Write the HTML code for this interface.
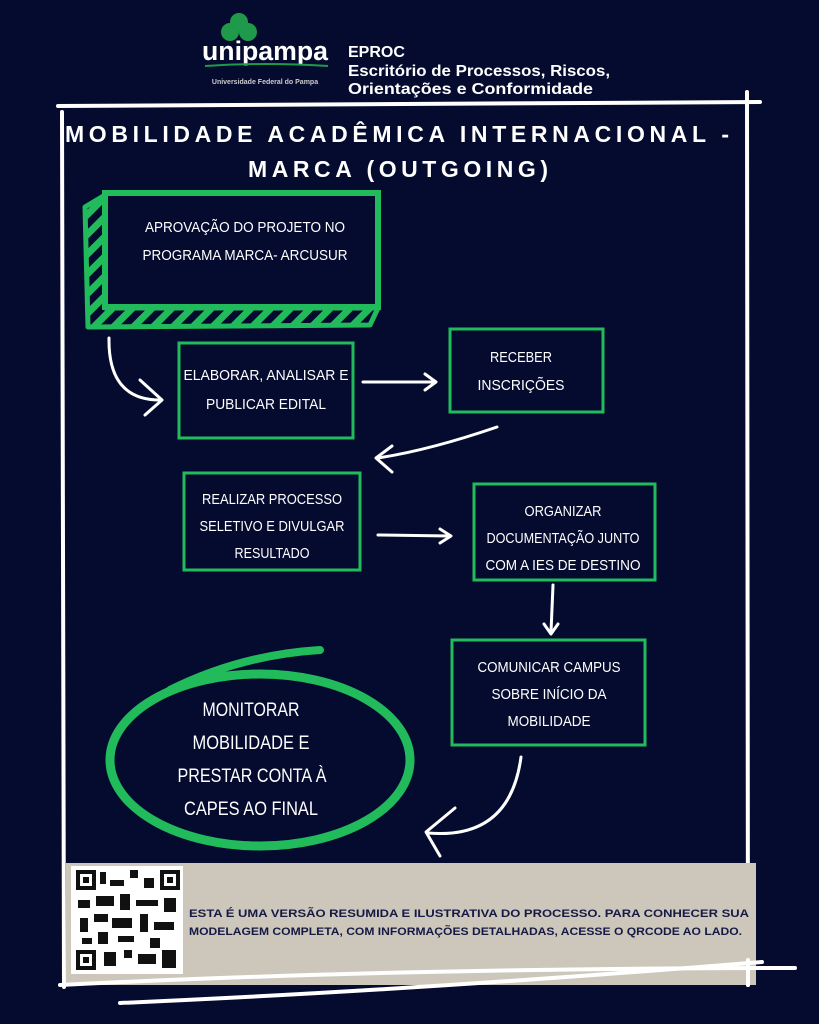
<!DOCTYPE html>
<html><head><meta charset="utf-8"><style>
html,body{margin:0;padding:0;background:#050b2f;}
svg{display:block}
.t{font-family:"Liberation Sans Narrow","Liberation Sans",sans-serif;fill:#fff}
</style></head><body>
<svg width="819" height="1024" viewBox="0 0 819 1024" xmlns="http://www.w3.org/2000/svg">
<defs>
<pattern id="hatch" width="14" height="14" patternUnits="userSpaceOnUse" patternTransform="rotate(45)">
<rect width="14" height="14" fill="#050b2f"/><rect width="7" height="14" fill="#22bb5c"/>
</pattern>
</defs>
<rect width="819" height="1024" fill="#050b2f"/>
<circle cx="239" cy="22" r="9" fill="#1f9a4a"/>
<circle cx="230" cy="32" r="9" fill="#1f9a4a"/>
<circle cx="248" cy="32" r="9" fill="#1f9a4a"/>
<text x="265" y="60" text-anchor="middle" font-family="Liberation Sans,sans-serif" font-weight="bold" font-size="27" fill="#fff" textLength="126" lengthAdjust="spacingAndGlyphs">unipampa</text>
<path d="M205 66 Q265 62 328 66" stroke="#1f9a4a" stroke-width="2" fill="none"/>
<text x="265" y="84" text-anchor="middle" font-family="Liberation Sans,sans-serif" font-weight="bold" font-size="7" fill="#ccc">Universidade Federal do Pampa</text>
<g font-family="Liberation Sans,sans-serif" font-weight="bold" fill="#fff" font-size="16">
<text x="348" y="57">EPROC</text>
<text x="348" y="76" textLength="262" lengthAdjust="spacingAndGlyphs">Escritório de Processos, Riscos,</text>
<text x="348" y="94" textLength="245" lengthAdjust="spacingAndGlyphs">Orientações e Conformidade</text>
</g>
<g stroke="#fff" stroke-width="4" stroke-linecap="round" fill="none">
<path d="M58 106 L760 102"/>
<path d="M62 112 L64 987"/>
<path d="M747 92 L748 985"/>
</g>
<g font-family="Liberation Sans,sans-serif" font-weight="bold" fill="#fff" font-size="23" text-anchor="middle">
<text x="397" y="142" textLength="664" lengthAdjust="spacing">MOBILIDADE ACADÊMICA INTERNACIONAL -</text>
<text x="398" y="177" textLength="300" lengthAdjust="spacing">MARCA (OUTGOING)</text>
</g>
<path d="M85 207 L105 195 L105 308 L378 308 L370 325 L88 327 Z" fill="url(#hatch)" stroke="#22bb5c" stroke-width="5" stroke-linejoin="round"/>
<rect x="105" y="193" width="273" height="114" fill="#050b2f" stroke="#22bb5c" stroke-width="6"/>
<text class="t" x="245" y="232" text-anchor="middle" font-size="15" textLength="200" lengthAdjust="spacingAndGlyphs">APROVAÇÃO DO PROJETO NO</text>
<text class="t" x="245" y="260" text-anchor="middle" font-size="15" textLength="205" lengthAdjust="spacingAndGlyphs">PROGRAMA MARCA- ARCUSUR</text>
<g fill="none" stroke="#22bb5c" stroke-width="3">
<rect x="179" y="343" width="174" height="95"/>
<rect x="450" y="329" width="153" height="83"/>
<rect x="184" y="473" width="176" height="97"/>
<rect x="474" y="484" width="181" height="96"/>
<rect x="452" y="640" width="193" height="105"/>
</g>
<ellipse cx="260" cy="760" rx="150" ry="86" fill="none" stroke="#22bb5c" stroke-width="9"/>
<path d="M170 690 Q240 655 320 650" stroke="#22bb5c" stroke-width="8" fill="none" stroke-linecap="round"/>
<g class="t" font-size="15" text-anchor="middle">
<text x="266" y="380" textLength="165" lengthAdjust="spacingAndGlyphs">ELABORAR, ANALISAR E</text>
<text x="266" y="409" textLength="120" lengthAdjust="spacingAndGlyphs">PUBLICAR EDITAL</text>
<text x="521" y="362" textLength="62" lengthAdjust="spacingAndGlyphs">RECEBER</text>
<text x="521" y="390" textLength="87" lengthAdjust="spacingAndGlyphs">INSCRIÇÕES</text>
<text x="272" y="504" textLength="140" lengthAdjust="spacingAndGlyphs">REALIZAR PROCESSO</text>
<text x="272" y="531" textLength="145" lengthAdjust="spacingAndGlyphs">SELETIVO E DIVULGAR</text>
<text x="272" y="558" textLength="75" lengthAdjust="spacingAndGlyphs">RESULTADO</text>
<text x="563" y="516" textLength="77" lengthAdjust="spacingAndGlyphs">ORGANIZAR</text>
<text x="563" y="543" textLength="153" lengthAdjust="spacingAndGlyphs">DOCUMENTAÇÃO JUNTO</text>
<text x="563" y="570" textLength="155" lengthAdjust="spacingAndGlyphs">COM A IES DE DESTINO</text>
<text x="549" y="672" textLength="143" lengthAdjust="spacingAndGlyphs">COMUNICAR CAMPUS</text>
<text x="549" y="699" textLength="115" lengthAdjust="spacingAndGlyphs">SOBRE INÍCIO DA</text>
<text x="549" y="726" textLength="83" lengthAdjust="spacingAndGlyphs">MOBILIDADE</text>
</g>
<g class="t" font-size="19" text-anchor="middle">
<text x="251" y="716" textLength="97" lengthAdjust="spacingAndGlyphs">MONITORAR</text>
<text x="251" y="749" textLength="117" lengthAdjust="spacingAndGlyphs">MOBILIDADE E</text>
<text x="252" y="782" textLength="149" lengthAdjust="spacingAndGlyphs">PRESTAR CONTA À</text>
<text x="251" y="815" textLength="134" lengthAdjust="spacingAndGlyphs">CAPES AO FINAL</text>
</g>
<g stroke="#fff" stroke-width="3" fill="none" stroke-linecap="round" stroke-linejoin="round">
<path d="M109 338 Q108 400 160 400"/><path d="M140 380 L162 400 L145 415"/>
<path d="M363 382 L435 382"/><path d="M425 374 L436 382 L425 390"/>
<path d="M497 427 Q430 450 378 458"/><path d="M392 446 L376 458 L392 472"/>
<path d="M378 535 L450 536"/><path d="M440 529 L451 536 L440 543"/>
<path d="M553 585 L551 632"/><path d="M544 624 L551 634 L558 624"/>
<path d="M521 757 Q510 840 428 833"/><path d="M455 808 L426 832 L440 856"/>
</g>
<rect x="66" y="863" width="690" height="122" fill="#cdc6bb"/>
<rect x="71" y="866" width="112" height="108" fill="#fff"/>
<g fill="#111">
<rect x="76" y="870" width="20" height="20"/><rect x="160" y="870" width="20" height="20"/><rect x="76" y="950" width="20" height="20"/>
<rect x="100" y="872" width="6" height="12"/><rect x="110" y="880" width="14" height="6"/><rect x="130" y="870" width="8" height="8"/><rect x="144" y="878" width="10" height="10"/>
<rect x="78" y="900" width="12" height="8"/><rect x="96" y="896" width="18" height="10"/><rect x="120" y="894" width="10" height="16"/><rect x="136" y="900" width="22" height="6"/><rect x="164" y="898" width="12" height="14"/>
<rect x="80" y="918" width="8" height="14"/><rect x="94" y="914" width="14" height="8"/><rect x="112" y="918" width="20" height="10"/><rect x="140" y="914" width="8" height="18"/><rect x="154" y="922" width="20" height="8"/>
<rect x="98" y="932" width="10" height="12"/><rect x="118" y="936" width="16" height="6"/><rect x="150" y="938" width="10" height="10"/><rect x="82" y="938" width="10" height="6"/>
<rect x="104" y="952" width="12" height="14"/><rect x="124" y="950" width="8" height="8"/><rect x="138" y="954" width="18" height="10"/><rect x="162" y="950" width="14" height="18"/>
</g>
<rect x="80" y="874" width="12" height="12" fill="#fff"/><rect x="164" y="874" width="12" height="12" fill="#fff"/><rect x="80" y="954" width="12" height="12" fill="#fff"/>
<rect x="83" y="877" width="6" height="6" fill="#111"/><rect x="167" y="877" width="6" height="6" fill="#111"/><rect x="83" y="957" width="6" height="6" fill="#111"/>
<g font-family="Liberation Sans Narrow,Liberation Sans,sans-serif" font-weight="bold" font-size="11" fill="#151a45">
<text x="189" y="917" textLength="560" lengthAdjust="spacingAndGlyphs">ESTA É UMA VERSÃO RESUMIDA E ILUSTRATIVA DO PROCESSO. PARA CONHECER SUA</text>
<text x="189" y="935" textLength="553" lengthAdjust="spacingAndGlyphs">MODELAGEM COMPLETA, COM INFORMAÇÕES DETALHADAS, ACESSE O QRCODE AO LADO.</text>
</g>
<g stroke="#fff" stroke-width="4" stroke-linecap="round" fill="none">
<path d="M60 985 Q400 968 795 968"/>
<path d="M120 1003 Q420 990 762 962"/>
<path d="M748 960 L748 985"/>
</g>
</svg>
</body></html>
